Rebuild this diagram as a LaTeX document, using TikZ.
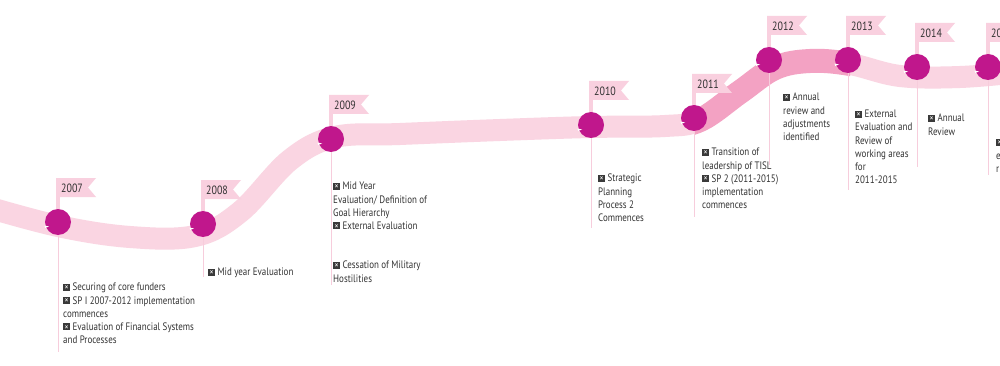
\documentclass[tikz,border=0pt]{standalone}
\usepackage{fontspec}
\setmainfont{PT Sans}[FakeStretch=0.83]
\definecolor{bandl}{HTML}{FAD5E2}
\definecolor{bandd}{HTML}{F3A2C3}
\definecolor{dotc}{HTML}{C0178C}
\definecolor{flagc}{HTML}{F9D0DF}
\definecolor{linec}{HTML}{F7CDDC}
\definecolor{txt}{HTML}{333333}
\definecolor{xbg}{HTML}{3A3A3A}
\newcommand\xb{\rlap{\textcolor{xbg}{\rule{7pt}{7pt}}}\makebox[7pt]{\textcolor{white}{\raisebox{0.4pt}{\fontsize{9.5}{9.5}\selectfont ×}}}}
\begin{document}
\begin{tikzpicture}[x=1pt,y=-1pt,
  dot/.style={circle,fill=dotc,minimum size=26pt,inner sep=0pt},
  yr/.style={font=\fontsize{12}{12}\selectfont,text=txt,inner sep=0pt,anchor=west},
  body/.style={font=\fontsize{10.8}{13.2}\selectfont,text=txt,inner sep=0pt,anchor=north west,align=left},
  vline/.style={draw=linec,line width=1pt},
  flag/.style={fill=flagc},
  band/.style={draw=bandl,line width=22pt},
  dband/.style={draw=bandd,line width=24pt}]
\useasboundingbox (0,0) rectangle (1000,366);
\clip (0,0) rectangle (1000,366);
\fill[white] (0,0) rectangle (1000,366);
% ribbon
\draw[band] plot[smooth,tension=0.6] coordinates {(-20,205) (58,226) (130,237) (195,236) (240,212) (290,160) (335,137) (400,134) (500,130) (590,127) (665,126) (700,120) (740,92) (775,68) (810,61) (850,64) (900,76) (960,77) (1020,72)};
\begin{scope}
\clip (694,0) rectangle (850,366);
\draw[dband] plot[smooth,tension=0.6] coordinates {(-20,205) (58,226) (130,237) (195,236) (240,212) (290,160) (335,137) (400,134) (500,130) (590,127) (665,126) (700,120) (740,92) (775,68) (810,61) (850,64) (900,76) (960,77) (1020,72)};
\end{scope}
% milestones
\foreach \cx/\cy/\yr/\lb in {58/222/2007/352, 203/224/2008/277, 331/139/2009/285, 591/125/2010/228, 694/118/2011/217, 769/60/2012/165, 848/60/2013/190, 917/67/2014/167, 988/67/2015/175}{
  \fill[flag] (\cx-2,\cy-44) -- ++(40,0) -- ++(-8,9.5) -- ++(8,9.5) -- ++(-40,0) -- cycle;
  \fill[flag] (\cx-2,\cy-25) rectangle (\cx+2,\cy-12);
  \node[yr] (y\yr) at (\cx+3,\cy-33.5) {\yr};
  \node[dot] (c\yr) at (\cx,\cy) {};
  \fill[white] (\cx-13.5,\cy+3.5) -- (\cx-9,\cy+4.5) -- (\cx-12.8,\cy+6) -- cycle;
  \coordinate (e\yr) at (\cx,\lb);
  \draw[vline] (c\yr.south) -- (e\yr);
}
% texts
\node[body] (t2007) at (63,283) {\xb\ Securing of core funders\\\xb\ SP I 2007-2012 implementation\\commences\\\xb\ Evaluation of Financial Systems\\and Processes};
\node[body] (t2008) at (208,268) {\xb\ Mid year Evaluation};
\node[body] (t2009) at (333,182) {\xb\ Mid Year\\Evaluation/ Definition of\\Goal Hierarchy\\\xb\ External Evaluation};
\node[body] (t2009b) at (333,261) {\xb\ Cessation of Military\\Hostilities};
\node[body] (t2010) at (598,174) {\xb\ Strategic\\Planning\\Process 2\\Commences};
\node[body] (t2011) at (702,148) {\xb\ Transition of\\leadership of TISL\\\xb\ SP 2 (2011-2015)\\implementation\\commences};
\node[body] (t2012) at (783,93) {\xb\ Annual\\review and\\adjustments\\identified};
\node[body] (t2013) at (855,110) {\xb\ External\\Evaluation and\\Review of\\working areas\\for\\2011-2015};
\node[body] (t2014) at (928,114) {\xb\ Annual\\Review};
\node[body] (t2015) at (996,139) {\xb\\e\\r};
\end{tikzpicture}
\end{document}
